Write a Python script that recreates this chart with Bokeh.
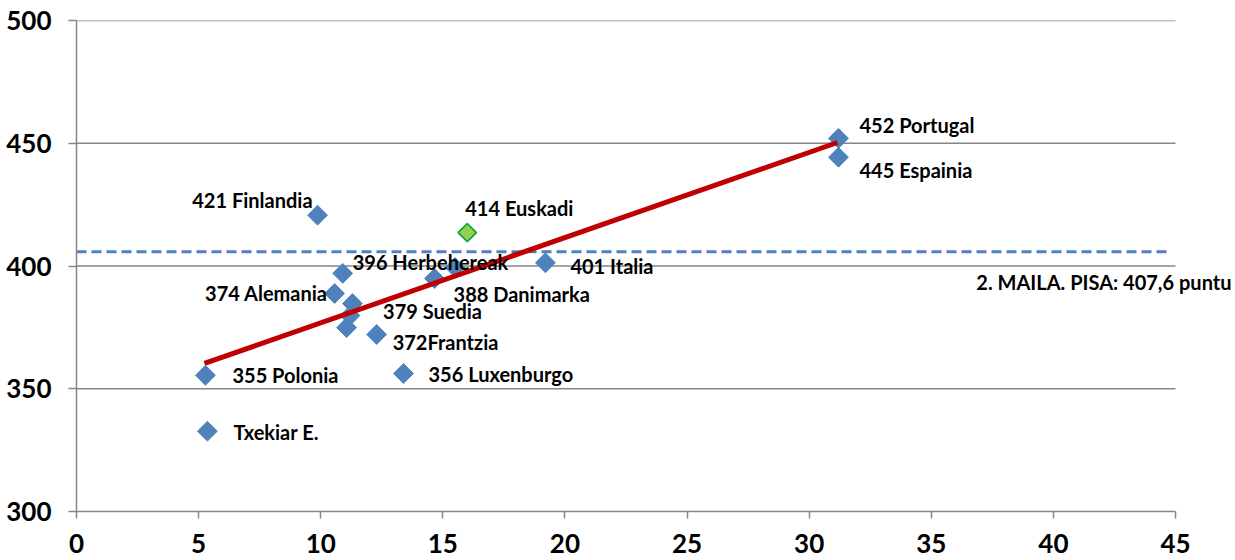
from bokeh.plotting import figure
from bokeh.models import FixedTicker, Range1d, ColumnDataSource
from bokeh.core.properties import value
from bokeh.embed import file_html
from bokeh.resources import INLINE

# ---------------- data ----------------
country_x = [31.2, 31.2, 9.87, 19.2, 10.9, 15.5, 14.66, 10.57, 11.3, 11.2, 11.06, 12.29, 5.28, 13.39, 5.36]
country_y = [452.0, 444.3, 420.7, 401.3, 397.0, 399.4, 394.9, 388.8, 384.7, 379.8, 374.9, 372.1, 355.5, 356.2, 332.7]
country_labels = ["452 Portugal", "445 Espainia", "421 Finlandia", "401 Italia", "396 Herbehereak", "",
                  "388 Danimarka", "374 Alemania", "", "379 Suedia", "", "372Frantzia",
                  "355 Polonia", "356 Luxenburgo", "Txekiar E."]

euskadi_x = [16.0]
euskadi_y = [413.6]
euskadi_label = ["414 Euskadi"]

trend_x = [5.24, 31.16]
trend_y = [360.3, 450.3]

pisa_level = 405.8
pisa_x = [0, 44.7]
pisa_text = ["2. MAILA. PISA: 407,6 puntu"]

x_ticks = [0, 5, 10, 15, 20, 25, 30, 35, 40, 45]
y_ticks = [300, 350, 400, 450, 500]
x_min, x_max = 0, 45

# ---------------- label placement (screen px) ----------------
label_dx = [21, 21, -5, 25, 10, 0, 19, -7, 0, 33, 0, 16, 27, 25, 26]
label_dy = [-13, 13, -15, 3, -11, 0, 15, 0, 0, -5, 0, 8, 0, 0, 1]
label_align = ["left", "left", "right", "left", "left", "left", "left", "right", "left",
               "left", "left", "left", "left", "left", "left"]

FONT = "Lato"
BLUE = "#4F81BD"
GRID = "#868686"

FRAME_W = 1159          # frame reaches the right edge so the reference-level text fits
AXIS_W = 1099           # pixel width of the 0..45 axis
x_view_max = x_max * FRAME_W / AXIS_W

p = figure(frame_width=FRAME_W, frame_height=491,
           min_border_left=76, min_border_right=0, min_border_top=20, min_border_bottom=49,
           x_range=Range1d(x_min, x_view_max), y_range=Range1d(y_ticks[0], y_ticks[-1]),
           output_backend="svg", toolbar_location=None)
p.outline_line_color = None
p.background_fill_color = "white"
p.border_fill_color = "white"
p.xgrid.visible = False
p.ygrid.visible = False

for ax in (p.xaxis[0], p.yaxis[0]):
    ax.axis_line_color = GRID
    ax.axis_line_width = 1.5
    ax.major_tick_line_color = GRID
    ax.major_tick_line_width = 1.5
    ax.major_tick_in = 0
    ax.minor_tick_line_color = None
    ax.major_label_text_font = FONT
    ax.major_label_text_font_style = "bold"
    ax.major_label_text_font_size = "26px"
    ax.major_label_text_color = "black"
p.xaxis.ticker = FixedTicker(ticks=x_ticks)
p.xaxis.bounds = (x_min, x_max)
p.yaxis.ticker = FixedTicker(ticks=y_ticks)
p.yaxis.major_tick_out = 8
p.yaxis.major_label_standoff = 17
p.xaxis.major_tick_out = 7
p.xaxis.major_label_standoff = 15

# horizontal gridlines ending at the last x tick
grid_y = y_ticks[1:]
p.segment(x0=[x_min] * len(grid_y), x1=[x_max] * len(grid_y), y0=grid_y, y1=grid_y,
          line_color=GRID, line_width=1.5)

# PISA reference level
p.line(pisa_x, [pisa_level] * len(pisa_x), line_color=BLUE, line_width=3, line_dash="10 5")

# points
p.scatter(country_x, country_y, marker="square", size=14, angle=0.785,
          fill_color=BLUE, line_color=BLUE, line_width=1)
p.scatter(euskadi_x, euskadi_y, marker="square", size=13, angle=0.785,
          fill_color="#92D050", line_color="#00A03C", line_width=1.5)

# trend line
p.line(trend_x, trend_y, line_color="#C00000", line_width=5)

# labels
for align in ("left", "right"):
    idx = [i for i, a in enumerate(label_align) if a == align and country_labels[i]]
    src = ColumnDataSource(dict(
        x=[country_x[i] for i in idx], y=[country_y[i] for i in idx],
        t=[country_labels[i] for i in idx],
        dx=[label_dx[i] for i in idx], dy=[label_dy[i] for i in idx]))
    p.text(x="x", y="y", text="t", x_offset="dx", y_offset="dy", source=src,
           text_font=value(FONT), text_font_style="bold", text_font_size="20px",
           text_color="black", text_align=align, text_baseline="middle")

p.text(x=euskadi_x, y=euskadi_y, text=euskadi_label, x_offset=-2, y_offset=-25,
       text_font=value(FONT), text_font_style="bold", text_font_size="20px",
       text_color="black", text_align="left", text_baseline="middle")

p.text(x=[x_max], y=[pisa_level], text=pisa_text, x_offset=56, y_offset=30,
       text_font=value(FONT), text_font_style="bold", text_font_size="20px",
       text_color="black", text_align="right", text_baseline="middle")

open("out.html", "w").write(file_html(p, INLINE))
